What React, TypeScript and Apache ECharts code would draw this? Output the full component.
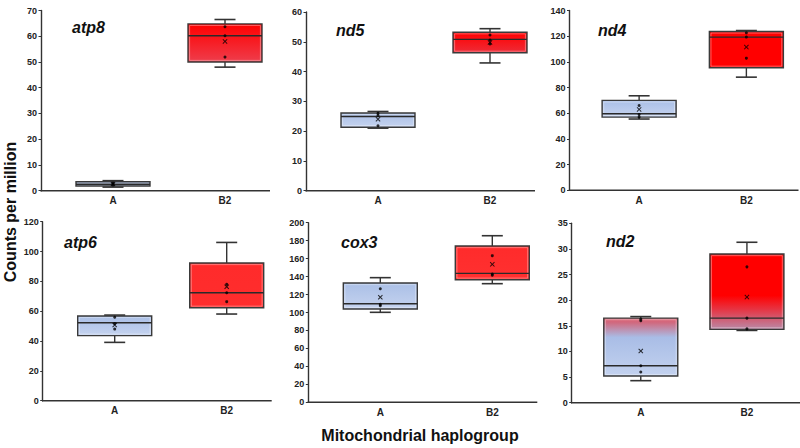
import React, { useEffect, useRef } from 'react';
import * as echarts from 'echarts';

const categories = ['A', 'B2'];
const genes = ['atp8', 'nd5', 'nd4', 'atp6', 'cox3', 'nd2'];

// box stats: [min, Q1, median, Q3, max]
const boxA = [
  [1.4, 1.8, 2.5, 3.5, 3.9],
  [21.0, 21.3, 24.9, 26.1, 26.6],
  [55.5, 57.0, 59.6, 70.0, 73.6],
  [39.1, 43.6, 52.3, 56.8, 57.4],
  [100.2, 103.9, 109.8, 132.8, 138.8],
  [4.3, 5.2, 7.2, 16.5, 16.8],
];
const boxB2 = [
  [48.0, 50.0, 60.2, 64.8, 66.5],
  [42.9, 46.3, 50.8, 53.2, 54.4],
  [88.1, 95.4, 119.3, 123.7, 124.4],
  [58.1, 62.3, 72.4, 92.3, 106.1],
  [132.1, 136.5, 143.6, 174.0, 185.5],
  [14.1, 14.3, 16.5, 29.0, 31.3],
];
const pointsA = [
  [2.2, 2.7, 3.0],
  [26.0, 25.3, 21.8],
  [66.0, 59.0, 57.0],
  [55.9, 51.8, 48.0],
  [126.5, 109.1, 107.6],
  [16.3, 16.0, 7.2, 6.0],
];
const pointsB2 = [
  [63.7, 60.2, 51.9],
  [52.3, 50.6, 49.3],
  [122.6, 119.3, 102.9],
  [78.0, 72.4, 66.4],
  [163.3, 142.9, 141.4],
  [26.5, 16.5, 14.4],
];
const meanA = [2.6, 24.0, 63.0, 50.7, 116.9, 10.1];
const meanB2 = [58.0, 49.8, 111.5, 76.4, 153.6, 20.6];
const yMax = [70, 60, 140, 120, 200, 35];
const yStep = [10, 10, 20, 20, 20, 5];

const yTitle = 'Counts per million';
const xTitle = 'Mitochondrial haplogroup';

// layout (pixels)
const panels = [
  { axisX: 41, top: 10.5, bottom: 190.7, tx: 72, ty: 27 },
  { axisX: 306, top: 12, bottom: 190.7, tx: 336, ty: 30 },
  { axisX: 569.5, top: 10.5, bottom: 190.3, tx: 598, ty: 30.5 },
  { axisX: 42.7, top: 221.7, bottom: 400.7, tx: 64, ty: 242 },
  { axisX: 308.3, top: 222.7, bottom: 402.3, tx: 341, ty: 242 },
  { axisX: 571.7, top: 223.3, bottom: 402.7, tx: 606, ty: 241 },
];

const blueFill: [number, string][] = [[0, '#aabfe6'], [1, '#c5d3ef']];
const fillsA: [number, string][][] = [blueFill, blueFill, blueFill, blueFill, blueFill,
  [[0, '#de6070'], [0.08, '#d06a80'], [0.33, '#a9bde6'], [1, '#c3d2ef']]];
const fillsB2: [number, string][][] = [
  [[0, '#ff0000'], [1, '#ee3d4c']],
  [[0, '#ff0000'], [1, '#ee2c38']],
  [[0, '#ff0000'], [1, '#ff0000']],
  [[0, '#ff2b2b'], [1, '#ff2d2d']],
  [[0, '#ff2b2b'], [1, '#ff3030']],
  [[0, '#ff0000'], [0.55, '#ff0000'], [0.72, '#e8303e'], [1, '#b98aa8']],
];

const FONT = '"Liberation Sans", Arial, sans-serif';
const AXIS_COLOR = '#333333';
const BOX_W = 74;
const CAP_W = 21;

const xMarker = 'path://M0,1.4L1.4,0L5,3.6L8.6,0L10,1.4L6.4,5L10,8.6L8.6,10L5,6.4L1.4,10L0,8.6L3.6,5Z';

function makeGradient(stops: [number, string][]) {
  return new echarts.graphic.LinearGradient(0, 0, 0, 1, stops.map(([o, c]) => ({ offset: o, color: c })));
}

export default function App() {
  const ref = useRef<HTMLDivElement>(null);
  useEffect(() => {
    if (!ref.current) return;
    const chart = echarts.init(ref.current, null, { renderer: 'svg', width: 800, height: 448 });
    const grids: any[] = [];
    const xAxes: any[] = [];
    const yAxes: any[] = [];
    const series: any[] = [];
    const graphics: any[] = [];

    panels.forEach((p, i) => {
      grids.push({ left: p.axisX + 16, width: 224, top: p.top, height: p.bottom - p.top });
      xAxes.push({
        gridIndex: i,
        type: 'category',
        data: categories,
        axisLine: { show: false },
        axisTick: { show: false },
        axisLabel: { fontFamily: FONT, fontWeight: 'bold', fontSize: 10, color: '#222', margin: 5 },
        splitLine: { show: false },
      });
      yAxes.push({
        gridIndex: i,
        type: 'value',
        min: 0,
        max: yMax[i],
        interval: yStep[i],
        offset: 16,
        axisLine: { show: true, lineStyle: { color: AXIS_COLOR, width: 1.4 } },
        axisTick: { show: true, length: 2.5, lineStyle: { color: AXIS_COLOR, width: 1 } },
        axisLabel: { fontFamily: FONT, fontWeight: 'bold', fontSize: 9, color: '#222', margin: 4 },
        splitLine: { show: false },
      });
      const fA = makeGradient(fillsA[i]);
      const fB = makeGradient(fillsB2[i]);
      series.push({
        type: 'custom',
        xAxisIndex: i,
        yAxisIndex: i,
        data: [[0, ...boxA[i]], [1, ...boxB2[i]]],
        renderItem: (params: any, api: any) => {
          const x = api.value(0);
          const pMin = api.coord([x, api.value(1)]);
          const pQ1 = api.coord([x, api.value(2)]);
          const pMed = api.coord([x, api.value(3)]);
          const pQ3 = api.coord([x, api.value(4)]);
          const pMax = api.coord([x, api.value(5)]);
          const cx = pMin[0];
          const hw = BOX_W / 2;
          const cw = CAP_W / 2;
          const line = { stroke: AXIS_COLOR, lineWidth: 1.4 };
          const h = pQ1[1] - pQ3[1];
          return {
            type: 'group',
            children: [
              { type: 'line', shape: { x1: cx, y1: pMax[1], x2: cx, y2: pQ3[1] }, style: line },
              { type: 'line', shape: { x1: cx, y1: pQ1[1], x2: cx, y2: pMin[1] }, style: line },
              { type: 'line', shape: { x1: cx - cw, y1: pMax[1], x2: cx + cw, y2: pMax[1] }, style: { ...line, lineWidth: 1.6 } },
              { type: 'line', shape: { x1: cx - cw, y1: pMin[1], x2: cx + cw, y2: pMin[1] }, style: { ...line, lineWidth: 1.6 } },
              {
                type: 'rect',
                shape: { x: cx - hw, y: pQ3[1], width: BOX_W, height: h },
                style: { fill: x === 0 ? fA : fB, stroke: '#3a3a3a', lineWidth: 1.4 },
              },
              {
                type: 'rect',
                shape: { x: cx - hw + 1.6, y: pQ3[1] + 1.6, width: BOX_W - 3.2, height: Math.max(h - 3.2, 0.5) },
                style: { fill: 'none', stroke: 'rgba(255,255,255,0.45)', lineWidth: 0.8 },
              },
              { type: 'line', shape: { x1: cx - hw, y1: pMed[1], x2: cx + hw, y2: pMed[1] }, style: { stroke: '#2a2a2a', lineWidth: 1.4 } },
            ],
          };
        },
        z: 2,
      });
      series.push({
        type: 'scatter',
        xAxisIndex: i,
        yAxisIndex: i,
        symbol: 'circle',
        symbolSize: 3,
        itemStyle: { color: '#000' },
        data: [...pointsA[i].map((v) => [0, v]), ...pointsB2[i].map((v) => [1, v])],
        z: 3,
      });
      series.push({
        type: 'scatter',
        xAxisIndex: i,
        yAxisIndex: i,
        symbol: xMarker,
        symbolSize: 5,
        itemStyle: { color: '#000' },
        data: [[0, meanA[i]], [1, meanB2[i]]],
        z: 3,
      });
      graphics.push({
        type: 'line',
        shape: { x1: p.axisX - 0.7, y1: p.bottom, x2: p.axisX + 229, y2: p.bottom },
        style: { stroke: AXIS_COLOR, lineWidth: 1.4 },
        z: 10,
      });
      graphics.push({
        type: 'text',
        x: p.tx,
        y: p.ty,
        style: {
          text: genes[i],
          font: `italic bold 16px ${FONT}`,
          fill: '#111',
          align: 'left',
          verticalAlign: 'middle',
        },
      });
    });

    graphics.push({
      type: 'text',
      x: 10,
      y: 212,
      rotation: Math.PI / 2,
      style: {
        text: yTitle,
        font: `bold 16px ${FONT}`,
        fill: '#111',
        align: 'center',
        verticalAlign: 'middle',
      },
    });
    graphics.push({
      type: 'text',
      x: 420,
      y: 435,
      style: {
        text: xTitle,
        font: `bold 16px ${FONT}`,
        fill: '#111',
        align: 'center',
        verticalAlign: 'middle',
      },
    });

    chart.setOption({
      animation: false,
      backgroundColor: '#ffffff',
      grid: grids,
      xAxis: xAxes,
      yAxis: yAxes,
      series,
      graphic: graphics,
    });
    return () => chart.dispose();
  }, []);
  return <div ref={ref} style={{ position: 'absolute', left: 0, top: 0, width: 800, height: 448 }} />;
}
